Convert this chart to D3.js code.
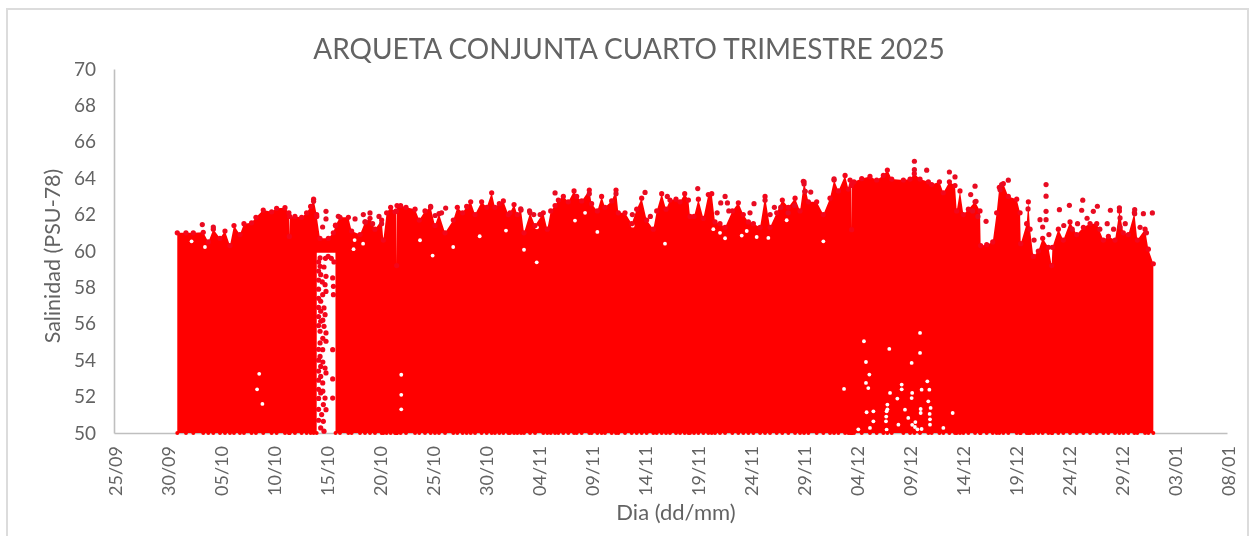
<!DOCTYPE html>
<html>
<head>
<meta charset="utf-8">
<script src="https://cdnjs.cloudflare.com/ajax/libs/d3/7.8.5/d3.min.js"></script>
<style>
  html, body { margin: 0; padding: 0; background: #fff; }
  text { font-family: Lato, "Open Sans", sans-serif; fill: #636363; }
  svg { filter: blur(0.45px); }
</style>
</head>
<body>
<div id="chart"></div>
<script>
// days since 25/09, salinity
var xTickDays = [0,5,10,15,20,25,30,35,40,45,50,55,60,65,70,75,80,85,90,95,100,105];
var xTickLabels = ["25/09","30/09","05/10","10/10","15/10","20/10","25/10","30/10","04/11","09/11","14/11","19/11","24/11","29/11","04/12","09/12","14/12","19/12","24/12","29/12","03/01","08/01"];
var yTicks = [50,52,54,56,58,60,62,64,66,68,70];

var chartTitle = "ARQUETA CONJUNTA CUARTO TRIMESTRE 2025";
var xTitle = "Dia (dd/mm)";
var yTitle = "Salinidad (PSU-78)";

// upper edge of the dense cloud
var upperEdge = [
  [5.97,61],[6.79,61],[7.48,61],[8.42,61.03],[8.9,60.5],[9.37,61.2],[10,60.7],[10.47,61.1],
  [10.94,60.3],[11.32,61.4],[11.88,60.9],[12.26,61.5],[12.98,61.55],[13.39,61.85],[14.08,62.25],[14.87,62.15],
  [15.34,62.35],[16.13,62.38],[16.5,62.1],[16.54,60.8],[16.58,61.9],[17.07,61.9],[17.7,61.85],[18.17,62.1],[18.55,62.45],
  [18.83,62.85],[19.12,62],[19.13,61.9],[19.43,60.7],[20.22,60.7],[20.69,61],[20.89,61.4],[20.9,61.42],
  [21.32,61.85],[22.11,61.85],[22.42,61.1],[23.21,60.9],[23.68,61.6],[24.15,61.8],[24.62,61.2],[25.25,61.7],
  [25.41,60.6],[25.72,62.1],[26.1,62.4],[26.51,62.15],[26.64,62.2],[26.67,59.2],[26.7,62.5],[27.04,62.5],
  [27.55,62.4],[28.4,62.3],[28.8,61.7],[29.34,62.2],[29.87,62.4],[30.28,61.4],[30.66,62.05],[31.23,61],
  [32.01,61.7],[32.39,62.4],[32.89,62.1],[33.27,62.45],[33.65,62.7],[34.06,62],[34.68,62.7],[35.16,62.4],
  [35.63,63.2],[35.94,62.4],[36.35,62.6],[36.73,62.75],[37.2,62],[37.36,62.1],[37.74,62.55],[38.05,62],
  [38.4,62.25],[38.68,61],[39.25,62.1],[39.72,61.4],[40.5,62.1],[40.88,61.2],[41.2,62.2],[41.61,62.5],
  [41.92,62.8],[42.39,63],[42.86,62.7],[43.4,63.3],[43.65,63],[44.12,62.75],[44.84,63.35],[45.06,62.6],
  [45.6,62.2],[46,63],[46.32,62.4],[46.95,62.75],[47.36,63.35],[47.58,62.1],[48.21,62.1],[48.84,61.5],
  [49.31,62.3],[49.78,62.9],[50.25,61.7],[50.88,61.2],[51.2,62.2],[51.67,63.15],[52.08,62.3],[52.45,62.8],
  [53.02,62.85],[53.4,62.7],[53.84,63.15],[54.19,62.8],[54.34,61.9],[54.72,61.9],[55.13,62.85],[55.6,61.8],
  [56.07,63.1],[56.39,63.15],[56.7,61.6],[57.17,61.5],[57.65,61.3],[58.34,62.2],[58.9,62.65],[59.37,62],
  [59.85,61.6],[60.32,61.5],[60.95,61.3],[61.42,63],[61.89,61.3],[62.52,62.1],[63.05,62.8],[63.62,62.4],
  [64.25,62.9],[64.72,62.2],[65.1,63.8],[65.51,62.7],[66.29,62.7],[66.92,62],[67.55,62.9],[67.93,63.9],
  [68.34,63.3],[68.97,64.15],[69.28,63.4],[69.44,63.9],[69.56,63.6],[69.59,61.17],[69.62,63.7],[69.81,63.8],
  [70.54,63.98],[71.32,64.1],[71.95,63.9],[72.58,64.15],[72.96,64.45],[73.37,63.95],[74.47,63.9],[75.1,63.95],
  [75.5,64.25],[76.04,63.95],[76.83,63.8],[77.14,63.65],[77.87,63.8],[78.24,63.2],[78.81,63.8],[79.34,63.6],
  [79.5,62.2],[79.81,63.3],[80.13,62],[80.6,62.3],[81.23,62.7],[81.7,62.2],[81.76,60.3],[82.33,60.35],
  [82.9,60.5],[83.27,62.1],[83.52,63.5],[83.9,63.7],[84.37,63],[85.16,62.85],[85.48,62.1],[85.54,60.4],
  [86.1,61.5],[86.26,62.7],[86.42,61.2],[86.73,59.7],[87.2,60],[87.61,60.7],[88.15,60.2],[88.46,59.2],
  [88.53,60.2],[89.09,61.2],[89.56,60.6],[90.19,61.6],[90.82,60.9],[91.45,61.3],[92.08,61.5],[92.71,61.5],
  [93.34,60.6],[93.81,60.8],[94.44,60.6],[94.85,62.2],[95.22,61],[95.69,60.9],[96.26,62.1],[96.54,60.6],
  [97.27,61.2],[97.58,60.1],[98.05,59.3]
];

// readings standing clear of the cloud
var topPoints = [
  [8.33,61.45],[9.37,61.32],[20,62.18],[20,61.76],[19.68,61.32],[21.16,61.91],[18.83,62.73],[23.52,62],[24.15,62.09],
  [22.74,61.76],[31.29,62.36],[29.87,62.46],[38.37,62.31],[41.61,63.19],[44.84,63.15],[47.36,63.15],[50.1,63.22],
  [52.2,63],[55.07,63.43],[57.65,63],[57.24,62.64],[57.87,62.64],[60.38,62.6],[61.42,62.79],[65.1,63.68],[65.19,63.28],
  [65.73,63.24],[75.51,64.93],[75.51,64.47],[76.67,64.44],[78.81,64.34],[79.34,64.07],[87.93,63.65],[87.93,63.01],
  [87.93,62.18],[87.93,61.72],[87.36,61.72],[87.61,61.32],[86.23,62.31],[82.27,61.63],[89.19,62.27],[90.13,62.51],
  [91.39,62.79],[91.29,62.24],[92.77,62.46],[92.39,62.18],[94,62.24],[94.85,62.37],[94.91,61.82],[94.91,61.32],
  [96.29,62.27],[96.29,62.05],[97.11,62.05],[97.96,62.09],[81.23,63.56],[80.82,63.1],[81.32,62.73],[84.37,63.89],
  [83.74,63.65],[83.59,63.37],[67.93,63.96],[65.19,63.28],[65.03,63.83],
  [23.7,61.6],[24.4,61.5],[25,61.9],[25.25,61.5],[30.3,61.95],[30.9,62.1],[39.2,62.2],[39.6,62],[40.2,62],
  [48.9,62],[50.6,61.9],[56.9,62.1],[58,62.2],[60,62.1],[61.9,62],[62.3,62.4],[62.9,62.4],[63.6,62.1],[64.2,62.5],
  [81.5,61.9],[81,62.2],[86.8,60.6],[88.2,60.9],[90.4,61.2],[90.9,61.5],[91.8,61.8],[93,61.2],[93.7,61.5],[94.3,61.2],
  [95.4,61.5],[96.8,61.3],[97.4,61],[89.6,61.4]
];

// scattered readings around the 14-15/10 gap
var gapPoints = [
  [19.44,59.62],[19.44,59.16],[19.81,59.12],[19.5,58.7],[20,58.61],[19.91,58.15],[20,57.78],[19.69,57.6],[19.5,57.24],
  [19.81,56.87],[19.5,56.69],[19.91,56.5],[19.5,56.14],[19.81,55.86],[19.44,55.59],[20,55.5],[20,55.04],[19.44,54.95],
  [19.69,54.58],[19.44,54.21],[19.5,53.66],[19.91,53.57],[20,53.3],[19.5,53.11],[19.69,52.75],[19.5,52.2],[19.91,51.92],
  [19.75,51.56],[20,51.28],[19.59,51.01],[19.75,50.64],[19.5,50.28],[19.81,50.1],[20.63,58.52],[20.7,58.06],[20.7,57.6],
  [20.63,54.58],[20.63,52.97],[20.63,51.92],
  [19.3,59.4],[19.3,58.9],[19.3,58.4],[19.3,57.9],[19.3,57.4],[19.3,56.9],[19.3,56.4],[19.3,55.9],[19.3,54.6],[19.3,54],
  [19.3,53.4],[19.3,52.9],[19.3,52.4],[19.3,51.9],[19.3,51.3],[19.3,50.7],[19.65,58.3],[19.7,56.2],[19.7,55.2],[19.7,53.9],
  [19.7,52.3],[19.95,59.6],[20.5,59.6],[20.75,59.4],[20.2,59.7]
];
var gapStart = 19.12, gapEnd = 20.9, gapFloor = 59.9, bottomSal = 50;

// places where the cloud leaves the background showing
var openSpots = [
  [70.75,55.04],[73.14,54.62],[76.04,55.5],[76.04,54.4],[70.94,53.9],[75.25,53.85],[71.26,53.21],[70.94,52.75],[71.16,52.47],
  [74.31,52.66],[74.31,52.4],[73.21,52.2],[76.19,52.38],[76.92,52.38],[76.73,52.84],[75.25,51.92],[75.3,52.2],[73.9,51.89],[72.96,51.56],[72.96,51.3],[76.82,51.74],
  [72.89,51.19],[72.85,50.9],[74.62,51.28],[76.1,51.32],[76.1,51.1],[77.04,51.38],[71,51.14],[71.64,51.19],[72.83,50.64],[74,50.46],[75.56,50.33],[75.6,50.6],
  [75.3,50.45],[75.8,50.2],[76.98,50.46],[76.98,50.75],[76.95,51.05],[71.64,50.64],[71.32,50.28],[72.89,50.19],[74.93,50.83],[76.19,50.22],[70.22,50.2],
  [79.12,51.1],[78.24,50.28],[68.87,52.42],[13.7,53.25],[13.5,52.4],[14,51.6],[27.1,53.2],[27.1,52.1],[27.1,51.3],
  [7.32,60.53],[8.58,60.22],[22.7,60.6],[23.5,60.4],[22.6,60.1],[28.87,60.59],[30.06,59.75],[32,60.22],[34.5,60.81],
  [36.98,61.12],[44.44,62.1],[43.49,61.67],[45.6,61.05],[39.9,61.3],[38.68,60.07],[48.93,61.39],[51.98,60.4],[39.88,59.38],
  [57.17,61],[57.65,60.7],[59.22,60.85],[59.69,61.1],[63.46,61.69],[61.73,60.72],[60.63,60.77],[66.92,60.53],[56.54,61.2]
];

var width = 1249, height = 536;
var margin = {top: 69, right: 22, bottom: 103, left: 114};

var xScale = d3.scaleLinear().domain([0, 105]).range([margin.left, width - margin.right]);
var yScale = d3.scaleLinear().domain([50, 70]).range([height - margin.bottom, margin.top]);

var svg = d3.select("#chart").append("svg")
    .attr("width", width)
    .attr("height", height)
    .style("display", "block");

// frame of the pasted chart (bottom edge falls off the picture)
svg.append("path")
    .attr("d", "M7,536V9H1248V536")
    .style("fill", "none")
    .style("stroke", "#dcdcdc")
    .style("stroke-width", 2);

// Axes
var xAxis = d3.axisBottom(xScale).tickValues(xTickDays)
    .tickFormat(function(d, i) { return xTickLabels[i]; }).tickSize(0);
var yAxis = d3.axisLeft(yScale).tickValues(yTicks).tickSize(0);

var xAxisG = svg.append("g")
    .attr("transform", "translate(0," + yScale(50) + ")")
    .call(xAxis);
var yAxisG = svg.append("g")
    .attr("transform", "translate(" + margin.left + ",0)")
    .call(yAxis);

xAxisG.selectAll("path").style("stroke", "#bfbfbf").style("stroke-width", 1.6);
yAxisG.selectAll("path").style("stroke", "#bfbfbf").style("stroke-width", 1.6);

xAxisG.selectAll("text")
    .attr("transform", function() { return "translate(1,13) rotate(-90)"; })
    .attr("x", 0).attr("y", 0).attr("dy", "0.35em")
    .attr("text-anchor", "end")
    .style("font-size", "18px");
yAxisG.selectAll("text")
    .attr("x", -18)
    .style("font-size", "19px");

// Dense cloud
function floorAt(day) {
    return (day > gapStart && day < gapEnd) ? gapFloor : bottomSal;
}
var area = d3.area()
    .x(function(d) { return xScale(d[0]); })
    .y0(function(d) { return yScale(floorAt(d[0])); })
    .y1(function(d) { return yScale(d[1]); });

svg.append("path")
    .datum(upperEdge)
    .attr("d", area)
    .style("fill", "#ff0000");

svg.selectAll("circle.open").data(openSpots).enter().append("circle")
    .attr("class", "open")
    .attr("cx", function(d) { return xScale(d[0]); })
    .attr("cy", function(d) { return yScale(d[1]); })
    .attr("r", 1.9)
    .style("fill", "#fff");

// Points on the bottom of the range
var bottomDays = upperEdge.map(function(d) { return d[0]; })
    .filter(function(d) { return floorAt(d) === bottomSal; });
svg.selectAll("circle.bottom").data(bottomDays).enter().append("circle")
    .attr("class", "bottom")
    .attr("cx", function(d) { return xScale(d); })
    .attr("cy", yScale(bottomSal))
    .attr("r", 2)
    .style("fill", "#ff0000");

// Single readings
function drawPoints(name, rows, fill) {
    svg.selectAll("circle." + name).data(rows).enter().append("circle")
        .attr("class", name)
        .attr("cx", function(d) { return xScale(d[0]); })
        .attr("cy", function(d) { return yScale(d[1]); })
        .attr("r", 2.6)
        .style("fill", fill);
}
drawPoints("edge", upperEdge, "#f4061a");
drawPoints("gap", gapPoints, "#f4061a");
drawPoints("top", topPoints, "#e80c22");

// Titles
svg.append("text")
    .attr("x", 629).attr("y", 59)
    .attr("text-anchor", "middle")
    .style("font-size", "28px")
    .text(chartTitle);
svg.append("text")
    .attr("x", 676).attr("y", 520)
    .attr("text-anchor", "middle")
    .style("font-size", "22px")
    .text(xTitle);
svg.append("text")
    .attr("transform", "translate(60,256) rotate(-90)")
    .attr("text-anchor", "middle")
    .style("font-size", "21.5px")
    .text(yTitle);
</script>
</body>
</html>
